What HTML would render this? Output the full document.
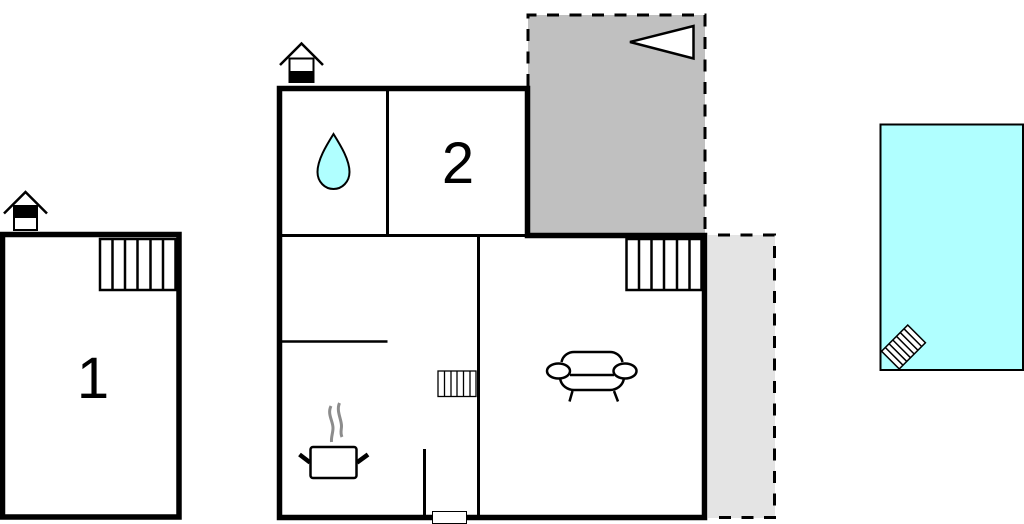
<!DOCTYPE html>
<html><head><meta charset="utf-8"><style>
html,body{margin:0;padding:0;background:#fff;width:1024px;height:524px;overflow:hidden}
svg{display:block}
text{font-family:"Liberation Sans",sans-serif;fill:#000}
</style></head><body>
<svg width="1024" height="524" viewBox="0 0 1024 524" xmlns="http://www.w3.org/2000/svg">
<!-- terraces -->
<rect x="528" y="15" width="177" height="220" fill="#c0c0c0"/>
<path d="M528 86V15H705V235" fill="none" stroke="#000" stroke-width="3" stroke-dasharray="12 10.5"/>
<polygon points="630,42 693.500,26 693.500,58.500" fill="#fff" stroke="#000" stroke-width="2.500"/>
<rect x="708" y="235" width="67" height="283" fill="#e4e4e4"/>
<path d="M718 235H774.500V517.500H712" fill="none" stroke="#000" stroke-width="3" stroke-dasharray="12 10.500"/>
<!-- pool -->
<rect x="880.500" y="124.500" width="142.500" height="245.500" fill="#b0ffff" stroke="#000" stroke-width="2"/>
<g transform="translate(903.500 347) rotate(45)">
<rect x="-12.500" y="-18.500" width="25" height="37" fill="#fff" stroke="#000" stroke-width="1.500"/>
<path d="M-12.500 -13.200H12.500M-12.500 -7.900H12.500M-12.500 -2.600H12.500M-12.500 2.600H12.500M-12.500 7.900H12.500M-12.500 13.200H12.500" stroke="#000" stroke-width="1.500"/>
</g>
<!-- left house -->
<rect x="2.500" y="234.500" width="176.500" height="282.500" fill="#fff" stroke="#000" stroke-width="5.500"/>
<g fill="none" stroke="#000">
<rect x="100" y="239" width="75.500" height="51" fill="#fff" stroke-width="2.500"/>
<path d="M112.500 239V290M125 239V290M137.500 239V290M150.500 239V290M163 239V290" stroke-width="2.500"/>
</g>
<text x="93" y="398" font-size="58" text-anchor="middle">1</text>
<!-- left house icon -->
<rect x="14" y="206" width="23" height="24" fill="#fff" stroke="#000" stroke-width="2"/>
<rect x="14" y="206" width="23" height="12" fill="#000"/>
<path d="M4 213.500L25.500 192L47 213.500" fill="none" stroke="#000" stroke-width="2.500"/>
<!-- main house -->
<path d="M279.500 88.500H527.500V235.500H704.500V517.500H279.500Z" fill="#fff" stroke="#000" stroke-width="5.500"/>
<g stroke="#000" fill="none">
<path d="M387.500 90V234" stroke-width="3"/>
<path d="M281 235.500H527" stroke-width="3"/>
<path d="M478.500 236V516" stroke-width="3"/>
<path d="M281 341.500H387.500" stroke-width="2.500"/>
<path d="M424.500 449V516" stroke-width="3"/>
</g>
<rect x="432.500" y="511.500" width="34" height="12" fill="#fff" stroke="#000" stroke-width="1"/>
<text x="458" y="183" font-size="58" text-anchor="middle">2</text>
<!-- main icon -->
<rect x="289.500" y="58.500" width="24" height="23.500" fill="#fff" stroke="#000" stroke-width="2"/>
<rect x="289" y="71" width="25" height="12" fill="#000"/>
<path d="M280 65L301.500 43.500L323 65" fill="none" stroke="#000" stroke-width="2.500"/>
<!-- drop -->
<path d="M333.500 134C326 146 317.500 160 317.500 172C317.500 182 325 189 333.500 189C342 189 349.500 182 349.500 172C349.500 160 341 146 333.500 134Z" fill="#b0ffff" stroke="#000" stroke-width="2"/>
<!-- stairs right -->
<g fill="none" stroke="#000">
<rect x="626.500" y="239" width="75" height="51" fill="#fff" stroke-width="2.500"/>
<path d="M639 239V290M651.500 239V290M664 239V290M677 239V290M689.500 239V290" stroke-width="2.500"/>
</g>
<!-- small radiator/stairs -->
<g fill="none" stroke="#000" stroke-width="1.300">
<rect x="438" y="371" width="38" height="25.500" fill="#fff"/>
<path d="M444.500 371V396.500M451 371V396.500M457 371V396.500M463.500 371V396.500M470 371V396.500"/>
</g>
<!-- sofa -->
<g fill="none" stroke="#000" stroke-width="2.500">
<path d="M561.500 362C563 355 569 352 574 352H610C615 352 621 355 622.500 362"/>
<path d="M560 378C561 386 568 390 574 390H610C616 390 623 386 624 378"/>
<path d="M570 375H614"/>
<ellipse cx="558.500" cy="371" rx="11.500" ry="7.500" fill="#fff"/>
<ellipse cx="625" cy="371" rx="11.500" ry="7.500" fill="#fff"/>
<path d="M572.500 391L569.500 401.500M614 391L618 401.500"/>
</g>
<!-- pot -->
<rect x="310.500" y="447" width="46" height="31" rx="2.500" fill="#fff" stroke="#000" stroke-width="2.500"/>
<path d="M299.500 454.500L310 462.500M368 454.500L357 462.500" stroke="#000" stroke-width="4.500" fill="none"/>
<path d="M331 406C327 414 333 421 333 428C333 433 331 437 331.500 442M339.500 403C336 411 341.500 419 341.500 426C341.500 430 340 433 342 437" fill="none" stroke="#8c8c8c" stroke-width="3"/>
</svg>
</body></html>
